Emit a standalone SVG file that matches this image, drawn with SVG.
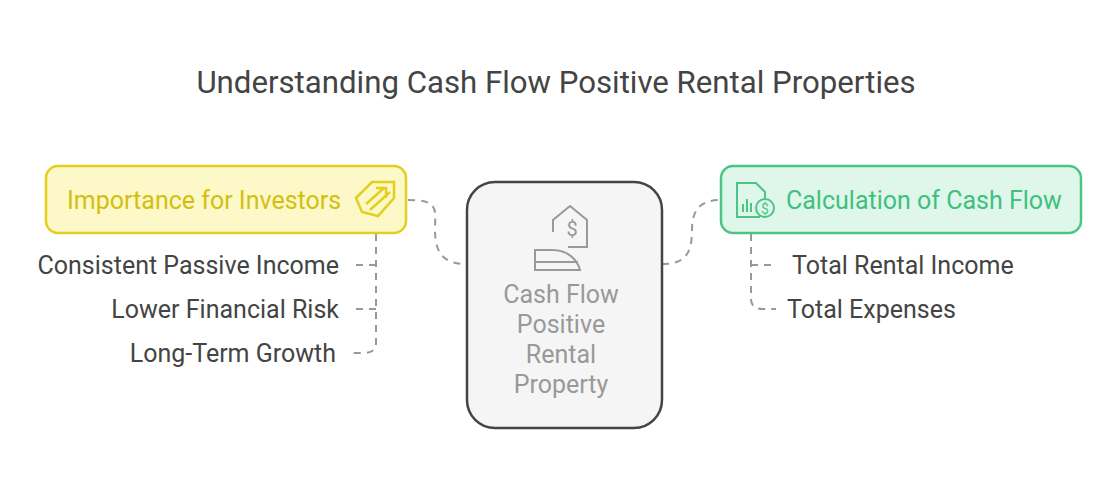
<svg xmlns="http://www.w3.org/2000/svg" width="1113" height="491" viewBox="0 0 1113 491">
<style>
text{font-family:Roboto,"Liberation Sans",sans-serif}
.t{font-size:25px;fill:#444}
.d{fill:none;stroke:#999;stroke-width:2;stroke-dasharray:7 6}
</style>
<rect width="1113" height="491" fill="#fff"/>
<text x="556" y="93" text-anchor="middle" font-size="31.2" fill="#444">Understanding Cash Flow Positive Rental Properties</text>
<g id="connectors">
<path class="d" d="M408 200 C440 200 435 210 435 230 C435 255 445 264 467 264"/>
<path class="d" d="M662 264 C684 264 692 255 692 230 C692 210 700 200 721 200"/>
<path class="d" d="M376 234 V343 Q376 353 364 353 H352"/>
<path class="d" d="M376 265 H352 M376 309 H352"/>
<path class="d" d="M751 234 V299 Q751 309 763 309 H776"/>
<path class="d" d="M751 265 H776"/>
</g>
<g id="center">
<rect x="467" y="182" width="195" height="246" rx="28" fill="#f5f5f5" stroke="#444" stroke-width="2.5"/>
<g fill="none" stroke="#999" stroke-width="2">
<path d="M553 232 V220 L570 206 L587 220 V247 H568"/>
<path d="M535 270 V250 H552 C570 250 578 262 580 270 Z"/>
<path d="M535 262 H578"/>
</g>
<text x="572" y="236" text-anchor="middle" font-size="20" fill="#999">$</text>
<g font-size="25" fill="#999" text-anchor="middle">
<text x="561" y="303">Cash Flow</text>
<text x="561" y="333">Positive</text>
<text x="561" y="363">Rental</text>
<text x="561" y="393">Property</text>
</g>
</g>
<g id="importance">
<rect x="46" y="166" width="360" height="67" rx="12" fill="#fdf8c8" stroke="#e2cf1e" stroke-width="2.5"/>
<text x="67" y="209" font-size="25" fill="#d4bf10">Importance for Investors</text>
<g fill="none" stroke="#e2cf1e" stroke-width="2.5">
<path d="M356 198 L372 182 L394 182 L394 198 L378 216 L362 212 Z"/>
<path d="M366 204 L384 188 M376 188 H386 V198 M370 210 L390 192"/>
</g>
</g>
<g id="calc">
<rect x="721" y="166" width="360" height="67" rx="12" fill="#dff7ea" stroke="#4cc488" stroke-width="2.5"/>
<text x="786" y="209" font-size="25" fill="#3fbf80">Calculation of Cash Flow</text>
<g fill="none" stroke="#4cc488" stroke-width="2">
<path d="M760 217 H737 V183 H756 L765 192 V198"/>
<circle cx="765" cy="208" r="9"/>
<path d="M743 212 V204 M747 212 V199 M751 212 V203"/>
</g>
<text x="765" y="213.5" font-size="14" fill="#4cc488" text-anchor="middle">$</text>
</g>
<g id="items">
<text class="t" x="339" y="274" text-anchor="end">Consistent Passive Income</text>
<text class="t" x="339" y="318" text-anchor="end">Lower Financial Risk</text>
<text class="t" x="336" y="362" text-anchor="end">Long-Term Growth</text>
<text class="t" x="792" y="274">Total Rental Income</text>
<text class="t" x="787" y="318">Total Expenses</text>
</g>
</svg>
